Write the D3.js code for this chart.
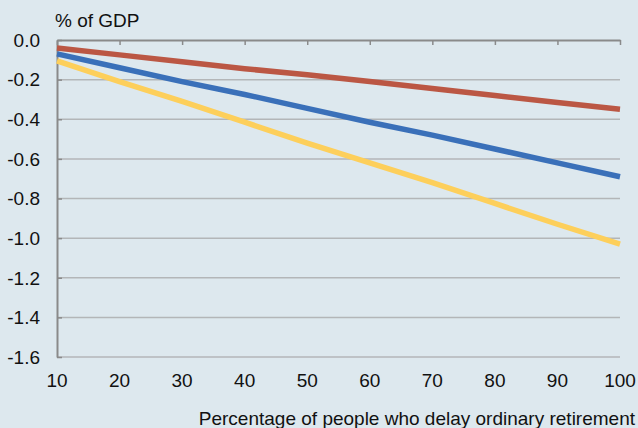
<!DOCTYPE html>
<html>
<head>
<meta charset="utf-8">
<script src="https://cdn.jsdelivr.net/npm/d3@7"></script>
<style>
  html, body { margin: 0; padding: 0; background: #dde8ee; }
  svg { display: block; }
  text { font-family: "Liberation Sans", Arial, Helvetica, sans-serif; fill: #111; }
</style>
</head>
<body>
<svg id="chart" width="638" height="428"></svg>
<script>
const xValues = [10, 20, 30, 40, 50, 60, 70, 80, 90, 100];
const redSeries = [-0.04, -0.075, -0.11, -0.145, -0.175, -0.21, -0.245, -0.28, -0.315, -0.35];
const blueSeries = [-0.07, -0.14, -0.21, -0.275, -0.345, -0.415, -0.48, -0.55, -0.62, -0.69];
const yellowSeries = [-0.105, -0.21, -0.31, -0.415, -0.52, -0.62, -0.72, -0.825, -0.93, -1.03];
const yTicks = [0.0, -0.2, -0.4, -0.6, -0.8, -1.0, -1.2, -1.4, -1.6];
const xTicks = [10, 20, 30, 40, 50, 60, 70, 80, 90, 100];
const yTitle = "% of GDP";
const xTitle = "Percentage of people who delay ordinary retirement";

const series = [
  { name: "red", values: redSeries, color: "#bb5744" },
  { name: "blue", values: blueSeries, color: "#3a70b9" },
  { name: "yellow", values: yellowSeries, color: "#fdcf5b" }
];

const svg = d3.select("#chart");
const mLeft = 57, mRight = 620, mTop = 40, mBottom = 357;
const fontSize = 19;

const x = d3.scaleLinear().domain([10, 100]).range([mLeft, mRight]);
const y = d3.scaleLinear().domain([0, -1.6]).range([mTop, mBottom]);

svg.append("rect").attr("width", 638).attr("height", 428).attr("fill", "#dde8ee");

// gridlines
svg.append("g")
  .selectAll("line")
  .data(yTicks.filter(d => d !== 0))
  .join("line")
  .attr("x1", mLeft).attr("x2", mRight)
  .attr("y1", d => y(d)).attr("y2", d => y(d))
  .attr("stroke", "#b3b6b8").attr("stroke-width", 1.5);

// top x axis line with ticks pointing down
const xAxis = d3.axisBottom(x).tickValues(xTicks).tickSize(5).tickSizeOuter(0).tickFormat("");
const gx = svg.append("g").attr("transform", `translate(0,${mTop})`).call(xAxis);
gx.select(".domain").attr("stroke", "#8a8a8a").attr("stroke-width", 2);
gx.selectAll(".tick line").attr("stroke", "#8a8a8a").attr("stroke-width", 1.5);

// left y axis line with ticks pointing right
const yAxis = d3.axisRight(y).tickValues(yTicks).tickSize(5).tickSizeOuter(0).tickFormat("");
const gy = svg.append("g").attr("transform", `translate(${mLeft},0)`).call(yAxis);
gy.select(".domain").attr("stroke", "#8a8a8a").attr("stroke-width", 2);
gy.selectAll(".tick line").attr("stroke", "#8a8a8a").attr("stroke-width", 1.5);

// y tick labels
svg.append("g")
  .selectAll("text")
  .data(yTicks)
  .join("text")
  .attr("x", 40)
  .attr("y", d => y(d))
  .attr("dy", "0.36em")
  .attr("text-anchor", "end")
  .attr("font-size", fontSize)
  .text(d => d3.format(".1f")(d).replace("\u2212", "-"));

// x tick labels
svg.append("g")
  .selectAll("text")
  .data(xTicks)
  .join("text")
  .attr("x", d => x(d))
  .attr("y", 387)
  .attr("text-anchor", "middle")
  .attr("font-size", fontSize)
  .text(d => d);

// titles
svg.append("text").attr("x", 55).attr("y", 27).attr("font-size", fontSize).text(yTitle);
svg.append("text").attr("x", 635).attr("y", 425).attr("text-anchor", "end").attr("font-size", fontSize).text(xTitle);

// lines
const line = d3.line().x((d, i) => x(xValues[i])).y(d => y(d));
svg.append("g")
  .selectAll("path")
  .data(series)
  .join("path")
  .attr("d", d => line(d.values))
  .attr("fill", "none")
  .attr("stroke", d => d.color)
  .attr("stroke-width", 5.5)
  .attr("stroke-linejoin", "round");
</script>
</body>
</html>
